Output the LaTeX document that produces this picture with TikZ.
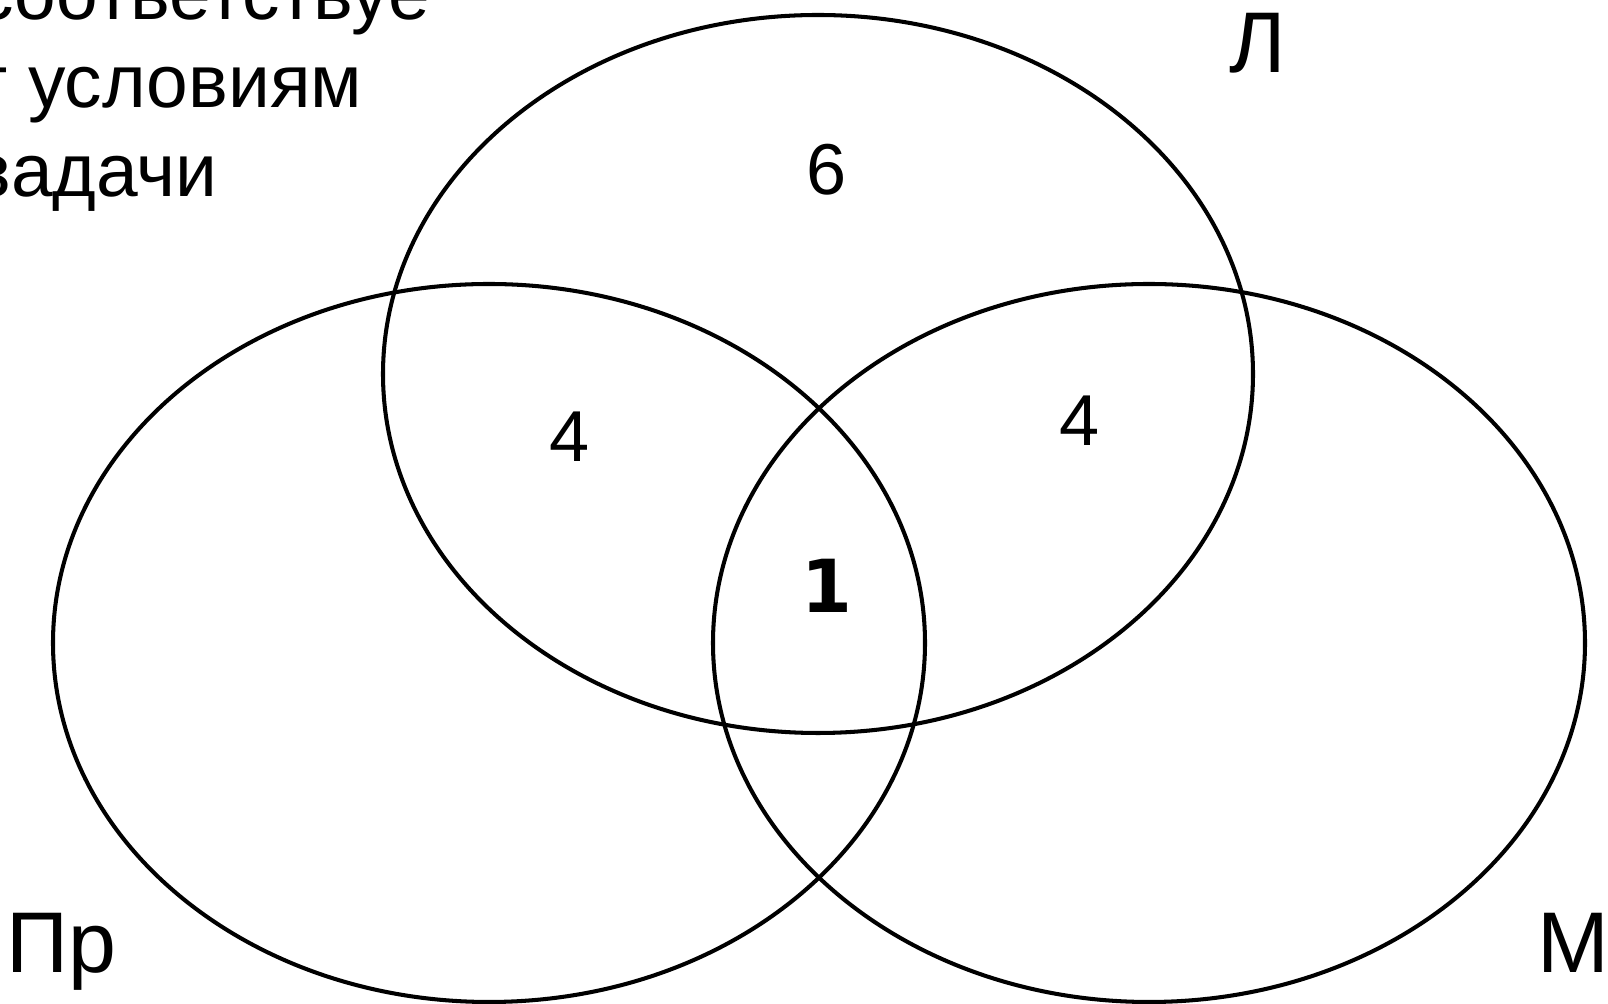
\documentclass[tikz,border=0pt]{standalone}
\usepackage{fontspec}
\setmainfont{Liberation Sans}
\newfontfamily\boldnum{DejaVu Sans}

\begin{document}
\begin{tikzpicture}[x=0.01cm, y=-0.01cm,
    setline/.style={line width=1.15pt},
    setname/.style={anchor=base, font=\fontsize{24.5}{29}\selectfont},
    count/.style={anchor=base, font=\fontsize{20.5}{24}\selectfont},
    note/.style={anchor=base east, inner sep=0pt, font=\fontsize{21.3}{26}\selectfont}]

\useasboundingbox (0,0) rectangle (1608,1004);

% Sets
\draw[setline] (818,374) ellipse [x radius=435, y radius=359];
\draw[setline] (489,643) ellipse [x radius=436, y radius=359];
\draw[setline] (1149,643) ellipse [x radius=436, y radius=359];

% Set names
\node[setname] (lit) at (1258,73) {Л};
\node[setname] (pr) at (61,973) {Пр};
\node[setname] (mat) at (1573,973) {М};

% Counts
\node[count] (onlyL) at (827,195) {6};
\node[count] (lpr) at (570,462) {4};
\node[count] (lm) at (1080,446) {4};
\node[anchor=base, font=\boldnum\bfseries\fontsize{20.8}{24}\selectfont] (all) at (827,613) {1};

% Note, cut by the page edge
\node[note] (n1) at (431,20) {соответствуе};
\node[note] (n2) at (363,108) {т условиям};
\node[note] (n3) at (218,197) {задачи};

\end{tikzpicture}
\end{document}
